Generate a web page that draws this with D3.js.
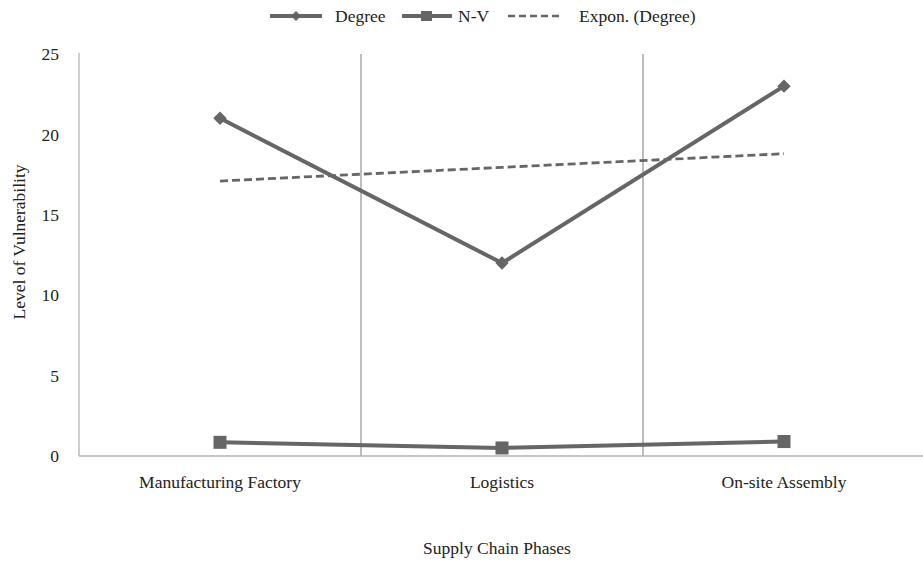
<!DOCTYPE html>
<html><head><meta charset="utf-8">
<script src="https://cdn.jsdelivr.net/npm/d3@7"></script>
<style>body{margin:0;background:#fff}svg{display:block}text{font-family:"Liberation Serif","Times New Roman",serif;fill:#222}</style>
</head><body><svg id="c" width="923" height="564"></svg>
<script>
const categories = ["Manufacturing Factory", "Logistics", "On-site Assembly"];
const degree = [21, 12, 23];
const nv = [0.85, 0.5, 0.9];
const trend = [17.1, 17.95, 18.8];
const yTicks = [0, 5, 10, 15, 20, 25];

const svg = d3.select("#c");
const L = 79, R = 925, T = 54, B = 456;
const x = d3.scaleBand().domain(categories).range([L, R]).padding(0);
const y = d3.scaleLinear().domain([0, 25]).range([B, T]);
const cx = d => x(d) + x.bandwidth() / 2;
const fs = 17.5;

svg.append("g").selectAll("line").data(categories.slice(1)).join("line")
  .attr("x1", d => x(d)).attr("x2", d => x(d)).attr("y1", T).attr("y2", B)
  .attr("stroke", "#9a9a9a").attr("stroke-width", 1.3);

svg.append("line").attr("x1", L).attr("x2", L).attr("y1", T - 1).attr("y2", B).attr("stroke", "#b3b3b3").attr("stroke-width", 1.3);
svg.append("line").attr("x1", L).attr("x2", 923).attr("y1", B).attr("y2", B).attr("stroke", "#b3b3b3").attr("stroke-width", 1.3);

svg.append("g").selectAll("text").data(yTicks).join("text")
  .attr("x", 59).attr("y", d => y(d)).attr("dy", "0.35em").attr("text-anchor", "end")
  .attr("font-size", fs).text(d => d);

svg.append("g").selectAll("text").data(categories).join("text")
  .attr("x", d => cx(d)).attr("y", 488).attr("text-anchor", "middle").attr("font-size", fs).text(d => d);

svg.append("text").attr("x", 497).attr("y", 554).attr("text-anchor", "middle").attr("font-size", fs).text("Supply Chain Phases");
svg.append("text").attr("transform", "translate(25,242) rotate(-90)").attr("text-anchor", "middle").attr("font-size", fs).text("Level of Vulnerability");

const col = "#666666";
const line = d3.line().x((d, i) => cx(categories[i])).y(d => y(d));

svg.append("path").attr("d", line.curve(d3.curveMonotoneX)(trend)).attr("fill", "none")
  .attr("stroke", col).attr("stroke-width", 2.8).attr("stroke-dasharray", "8,4");
line.curve(d3.curveLinear);

svg.append("path").attr("d", line(nv)).attr("fill", "none").attr("stroke", col).attr("stroke-width", 4);
svg.append("path").attr("d", line(degree)).attr("fill", "none").attr("stroke", col).attr("stroke-width", 4);

svg.append("g").selectAll("path").data(degree).join("path")
  .attr("transform", (d, i) => `translate(${cx(categories[i])},${y(d)}) rotate(45)`)
  .attr("d", d3.symbol().type(d3.symbolSquare).size(90)()).attr("fill", col);
svg.append("g").selectAll("rect").data(nv).join("rect")
  .attr("x", (d, i) => cx(categories[i]) - 6.5).attr("y", d => y(d) - 6.5)
  .attr("width", 13).attr("height", 13).attr("fill", col);

const ly = 16;
const lg = svg.append("g");
lg.append("line").attr("x1", 270).attr("x2", 322).attr("y1", ly).attr("y2", ly).attr("stroke", col).attr("stroke-width", 4);
lg.append("path").attr("transform", `translate(296,${ly}) rotate(45)`).attr("d", d3.symbol().type(d3.symbolSquare).size(50)()).attr("fill", col);
lg.append("text").attr("x", 335).attr("y", ly).attr("dy", "0.35em").attr("font-size", fs).text("Degree");
lg.append("line").attr("x1", 402).attr("x2", 452).attr("y1", ly).attr("y2", ly).attr("stroke", col).attr("stroke-width", 4);
lg.append("rect").attr("x", 421).attr("y", ly - 5).attr("width", 11).attr("height", 10).attr("fill", col);
lg.append("text").attr("x", 458).attr("y", ly).attr("dy", "0.35em").attr("font-size", fs).text("N-V");
lg.append("line").attr("x1", 508).attr("x2", 563).attr("y1", ly).attr("y2", ly).attr("stroke", col).attr("stroke-width", 2.5).attr("stroke-dasharray", "7,4");
lg.append("text").attr("x", 579).attr("y", ly).attr("dy", "0.35em").attr("font-size", fs).text("Expon. (Degree)");
</script></body></html>
